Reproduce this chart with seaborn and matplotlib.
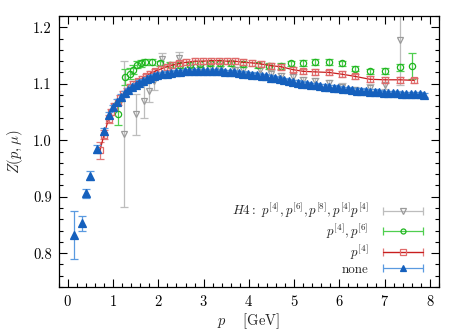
import numpy as np
import matplotlib
matplotlib.use("Agg")
import matplotlib.pyplot as plt
from matplotlib.legend_handler import HandlerErrorbar
from matplotlib.container import ErrorbarContainer
from matplotlib.ticker import MultipleLocator, FormatStrFormatter
import seaborn as sns

# --- data ---
# none (filled triangles)
none_p = [0.14, 0.32, 0.41, 0.50, 0.65, 0.79, 0.91, 1.00, 1.09, 1.18, 1.26, 1.34,
          1.42, 1.50, 1.58, 1.66, 1.74, 1.82, 1.90, 1.98, 2.08, 2.18, 2.28, 2.38,
          2.48, 2.58, 2.68, 2.78, 2.88, 2.98, 3.08, 3.18, 3.28, 3.38, 3.48, 3.58,
          3.68, 3.78, 3.88, 3.98, 4.08, 4.18, 4.28, 4.38, 4.48, 4.58, 4.68, 4.78,
          4.88, 4.98, 5.08, 5.18, 5.28, 5.38, 5.48, 5.58, 5.68, 5.78, 5.88, 5.98,
          6.08, 6.18, 6.28, 6.38, 6.48, 6.58, 6.68, 6.78, 6.88, 6.98, 7.08, 7.18,
          7.28, 7.38, 7.48, 7.58, 7.68, 7.78, 7.87]
none_z = [0.832, 0.853, 0.906, 0.937, 0.984, 1.016, 1.045, 1.058, 1.068, 1.077, 1.083, 1.089,
          1.094, 1.098, 1.102, 1.105, 1.108, 1.111, 1.113, 1.115, 1.117, 1.118, 1.119, 1.120,
          1.121, 1.122, 1.123, 1.123, 1.123, 1.123, 1.123, 1.123, 1.122, 1.122, 1.121, 1.121,
          1.120, 1.119, 1.118, 1.117, 1.116, 1.115, 1.114, 1.113, 1.111, 1.110, 1.108, 1.107,
          1.105, 1.103, 1.102, 1.100, 1.099, 1.098, 1.097, 1.096, 1.095, 1.094, 1.093, 1.092,
          1.091, 1.090, 1.089, 1.088, 1.088, 1.087, 1.086, 1.086, 1.085, 1.084, 1.084, 1.083,
          1.083, 1.082, 1.082, 1.081, 1.081, 1.081, 1.080]
none_err = [0.043, 0.013, 0.008, 0.008, 0.007, 0.006, 0.005, 0.005, 0.005, 0.004, 0.004, 0.004,
            0.004, 0.004, 0.004, 0.004, 0.004, 0.004, 0.004, 0.004, 0.004, 0.004, 0.004, 0.004,
            0.004, 0.004, 0.004, 0.004, 0.004, 0.004, 0.004, 0.004, 0.004, 0.004, 0.004, 0.004,
            0.004, 0.004, 0.004, 0.004, 0.004, 0.004, 0.004, 0.004, 0.004, 0.004, 0.004, 0.004,
            0.004, 0.004, 0.004, 0.004, 0.004, 0.004, 0.004, 0.004, 0.004, 0.004, 0.004, 0.004,
            0.004, 0.004, 0.004, 0.004, 0.004, 0.004, 0.004, 0.004, 0.004, 0.004, 0.004, 0.004,
            0.004, 0.004, 0.004, 0.004, 0.004, 0.004, 0.004]

# p[4] (open squares, joined)
p4_p = [0.71, 0.80, 0.90, 0.96, 1.03, 1.10, 1.16, 1.22, 1.30, 1.37, 1.45, 1.54,
        1.63, 1.72, 1.81, 1.92, 2.05, 2.18, 2.31, 2.46, 2.62, 2.80, 2.99, 3.16,
        3.34, 3.51, 3.69, 3.87, 4.06, 4.27, 4.49, 4.72, 4.97, 5.20, 5.47, 5.77,
        6.05, 6.35, 6.67, 7.00, 7.34, 7.65]
p4_z = [0.982, 1.010, 1.038, 1.050, 1.060, 1.068, 1.075, 1.082, 1.088, 1.094, 1.099, 1.104,
        1.109, 1.113, 1.118, 1.122, 1.126, 1.130, 1.133, 1.136, 1.138, 1.140, 1.140, 1.141,
        1.141, 1.140, 1.140, 1.138, 1.137, 1.135, 1.132, 1.130, 1.125, 1.122, 1.121, 1.120,
        1.117, 1.113, 1.108, 1.107, 1.107, 1.106]
p4_err = [0.015, 0.008, 0.007, 0.006, 0.006, 0.005, 0.005, 0.005, 0.005, 0.005, 0.005, 0.005,
          0.005, 0.005, 0.005, 0.005, 0.005, 0.005, 0.005, 0.005, 0.005, 0.005, 0.005, 0.005,
          0.005, 0.005, 0.005, 0.005, 0.005, 0.005, 0.005, 0.005, 0.005, 0.005, 0.005, 0.005,
          0.005, 0.005, 0.005, 0.005, 0.005, 0.005]

# p[4], p[6] (open circles)
p46_p = [1.11, 1.26, 1.37, 1.44, 1.52, 1.62, 1.70, 1.85, 2.03, 2.25, 2.47, 2.70,
         2.92, 3.14, 3.36, 3.60, 3.86, 4.20, 4.45, 4.70, 4.94, 5.20, 5.47, 5.77,
         6.05, 6.35, 6.67, 7.00, 7.34, 7.60]
p46_z = [1.047, 1.112, 1.118, 1.125, 1.134, 1.136, 1.138, 1.138, 1.136, 1.134, 1.133, 1.134,
         1.135, 1.136, 1.137, 1.136, 1.135, 1.133, 1.131, 1.132, 1.136, 1.137, 1.138, 1.139,
         1.136, 1.127, 1.122, 1.123, 1.129, 1.131]
p46_err = [0.020, 0.015, 0.010, 0.008, 0.006, 0.006, 0.005, 0.005, 0.005, 0.005, 0.005, 0.005,
           0.005, 0.005, 0.005, 0.005, 0.005, 0.005, 0.005, 0.005, 0.005, 0.005, 0.005, 0.005,
           0.005, 0.005, 0.005, 0.005, 0.006, 0.023]

# H4 (open down triangles)
h4_p = [1.24, 1.50, 1.68, 1.80, 1.90, 2.09, 2.46, 2.70, 2.92, 3.14, 3.36, 3.69,
        3.87, 4.24, 4.49, 4.72, 4.97, 5.20, 5.47, 5.77, 6.05, 6.35, 6.67, 7.00, 7.34]
h4_z = [1.011, 1.046, 1.070, 1.088, 1.104, 1.144, 1.146, 1.128, 1.127, 1.127, 1.126, 1.124,
        1.125, 1.124, 1.118, 1.113, 1.112, 1.106, 1.104, 1.101, 1.095, 1.089, 1.093, 1.097, 1.177]
h4_err = [0.130, 0.036, 0.030, 0.020, 0.015, 0.010, 0.010, 0.006, 0.006, 0.006, 0.006, 0.006,
          0.006, 0.006, 0.006, 0.006, 0.006, 0.006, 0.006, 0.006, 0.006, 0.006, 0.006, 0.006, 0.080]

labels = [r"$H4:\ p^{[4]},p^{[6]},p^{[8]},p^{[4]}p^{[4]}$", r"$p^{[4]},p^{[6]}$",
          r"$p^{[4]}$", "none"]

sns.set_theme(style="ticks")
plt.rcParams["font.family"] = ["cmr10", "DejaVu Serif"]
plt.rcParams["mathtext.fontset"] = "cm"
plt.rcParams["axes.formatter.use_mathtext"] = True
plt.rcParams["axes.unicode_minus"] = False

fig = plt.figure(figsize=(4.63, 3.33), dpi=100)
ax = fig.add_axes([0.127, 0.138, 0.821, 0.814])

styles = [
    dict(fmt="v", color="#9a9a9a", ecolor="#bdbdbd", mfc="none", ms=5, zorder=2),
    dict(fmt="o", color="#1fb51f", ecolor="#4fcf4f", mfc="none", ms=4.5, zorder=3),
    dict(fmt="s-", color="#c81e1e", ecolor="#e07a7a", mfc="none", mec="#e06a6a", ms=5, lw=0.9, zorder=4),
    dict(fmt="^", color="#1560bd", ecolor="#5a9ae0", ms=5.5, zorder=5),
]
series = [(h4_p, h4_z, h4_err), (p46_p, p46_z, p46_err), (p4_p, p4_z, p4_err), (none_p, none_z, none_err)]

handles = []
for (x, y, e), st, lab in zip(series, styles, labels):
    ax.errorbar(x, y, yerr=e, capsize=3, elinewidth=0.9, capthick=0.9, mew=0.9, **st)
    # proxy with horizontal bar for the legend
    h = ax.errorbar([np.nan], [np.nan], xerr=[0.1], capsize=3, elinewidth=0.9,
                    capthick=0.9, mew=0.9, label=lab, **st)
    handles.append(h)

ax.set_xlim(-0.2, 8.2)
ax.set_ylim(0.74, 1.22)
ax.xaxis.set_major_locator(MultipleLocator(1))
ax.xaxis.set_minor_locator(MultipleLocator(0.2))
ax.yaxis.set_major_locator(MultipleLocator(0.1))
ax.yaxis.set_minor_locator(MultipleLocator(0.02))
ax.yaxis.set_major_formatter(FormatStrFormatter("%.1f"))
ax.tick_params(which="both", direction="in", top=True, right=True, colors="black",
               labelsize=10.5, width=0.8)
ax.tick_params(which="major", length=6, pad=5)
ax.tick_params(which="minor", length=3)
for s in ax.spines.values():
    s.set_linewidth(0.9)
    s.set_color("black")

ax.set_xlabel(r"$p\quad$ [GeV]", fontsize=10.5, labelpad=2)
ax.set_ylabel(r"$Z(p,\mu)$", fontsize=10.5, labelpad=6)

ax.legend(handles=handles, labels=labels, loc="lower right", bbox_to_anchor=(0.99, -0.002),
          frameon=False, markerfirst=False, fontsize=9.4, handlelength=3.1,
          handletextpad=1.1, labelspacing=0.14, markerscale=0.8,
          handler_map={ErrorbarContainer: HandlerErrorbar(xerr_size=1.55)})

fig.savefig("out.png", dpi=100)
